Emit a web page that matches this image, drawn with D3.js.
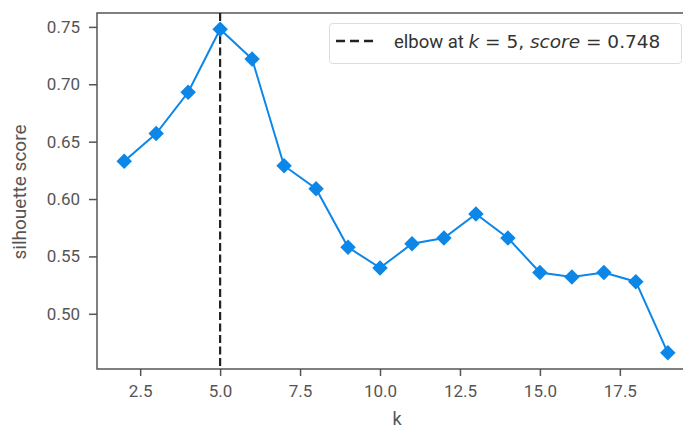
<!DOCTYPE html>
<html lang="en">
<head>
<meta charset="UTF-8">
<title>Silhouette elbow</title>
<script src="https://d3js.org/d3.v7.min.js"></script>
<style>
  body { margin: 0; background: #fff; }
  text { font-family: Roboto, "DejaVu Sans", sans-serif; fill: #555; }
</style>
</head>
<body>
<div class="chart"></div>
<script>
  const ks = [2, 3, 4, 5, 6, 7, 8, 9, 10, 11, 12, 13, 14, 15, 16, 17, 18, 19];
  const scores = [0.633, 0.657, 0.693, 0.748, 0.722, 0.629, 0.609, 0.558, 0.540,
                  0.561, 0.566, 0.587, 0.566, 0.536, 0.532, 0.536, 0.528, 0.466];
  const xTicks = [2.5, 5.0, 7.5, 10.0, 12.5, 15.0, 17.5];
  const yTicks = [0.50, 0.55, 0.60, 0.65, 0.70, 0.75];
  const elbowK = 5, elbowScore = 0.748;

  const W = 683, H = 430;
  const box = { left: 97, top: 13, right: 695, bottom: 369 };
  const blue = '#0c87e8';
  const axisCol = '#555';

  const svg = d3.select('.chart').append('svg')
    .attr('width', W).attr('height', H);

  const x = d3.scaleLinear().domain([1.15, 19.85]).range([box.left, box.right]);
  const y = d3.scaleLinear().domain([0.4519, 0.7621]).range([box.bottom, box.top]);

  // frame
  svg.append('rect')
    .attr('x', box.left).attr('y', box.top)
    .attr('width', box.right - box.left).attr('height', box.bottom - box.top)
    .attr('fill', 'none').attr('stroke', axisCol).attr('stroke-width', 1.5);

  const xAxis = svg.append('g').attr('transform', `translate(0 ${box.bottom})`)
    .call(d3.axisBottom(x).tickValues(xTicks).tickFormat(d3.format('.1f')).tickSize(7).tickPadding(9));
  const yAxis = svg.append('g').attr('transform', `translate(${box.left} 0)`)
    .call(d3.axisLeft(y).tickValues(yTicks).tickFormat(d3.format('.2f')).tickSize(8).tickPadding(9));
  [xAxis, yAxis].forEach(g => {
    g.select('.domain').remove();
    g.selectAll('.tick line').attr('stroke', axisCol).attr('stroke-width', 1.5);
    g.selectAll('.tick text').attr('font-size', 17).style('fill', '#555');
  });

  svg.append('text').attr('x', 397).attr('y', 425).attr('text-anchor', 'middle')
    .attr('font-size', 18).text('k');
  svg.append('text').attr('transform', 'translate(26 192) rotate(-90)')
    .attr('text-anchor', 'middle').attr('font-size', 19).text('silhouette score');

  // elbow line
  svg.append('line')
    .attr('x1', x(elbowK)).attr('x2', x(elbowK))
    .attr('y1', box.top).attr('y2', box.bottom)
    .attr('stroke', '#222').attr('stroke-width', 2.2).attr('stroke-dasharray', '8,3.5');

  const line = d3.line().x((d, i) => x(ks[i])).y(d => y(d));
  svg.append('path').datum(scores).attr('d', line)
    .attr('fill', 'none').attr('stroke', blue).attr('stroke-width', 2);

  svg.selectAll('.pt').data(scores).enter().append('path')
    .attr('class', 'pt')
    .attr('d', d3.symbol().type(d3.symbolSquare).size(120))
    .attr('transform', (d, i) => `translate(${x(ks[i])} ${y(d)}) rotate(45)`)
    .attr('fill', blue);

  // legend
  const lg = svg.append('g');
  lg.append('rect').attr('x', 329.5).attr('y', 23.5).attr('width', 352).attr('height', 40)
    .attr('rx', 3).attr('fill', '#fff').attr('stroke', '#ddd').attr('stroke-width', 1);
  lg.append('line').attr('x1', 336).attr('x2', 373).attr('y1', 41).attr('y2', 41)
    .attr('stroke', '#222').attr('stroke-width', 2.5).attr('stroke-dasharray', '9,5');
  const t = lg.append('text').attr('x', 394).attr('y', 48).attr('font-size', 18.5).style('fill', '#333');
  t.append('tspan').text('elbow at ');
  t.append('tspan').attr('font-style', 'italic').attr('font-family', 'DejaVu Sans').text('k');
  t.append('tspan').attr('font-family', 'DejaVu Sans').text(` = ${elbowK}, `);
  t.append('tspan').attr('font-style', 'italic').attr('font-family', 'DejaVu Sans').text('score');
  t.append('tspan').attr('font-family', 'DejaVu Sans').text(` = ${elbowScore}`);
</script>
</body>
</html>
